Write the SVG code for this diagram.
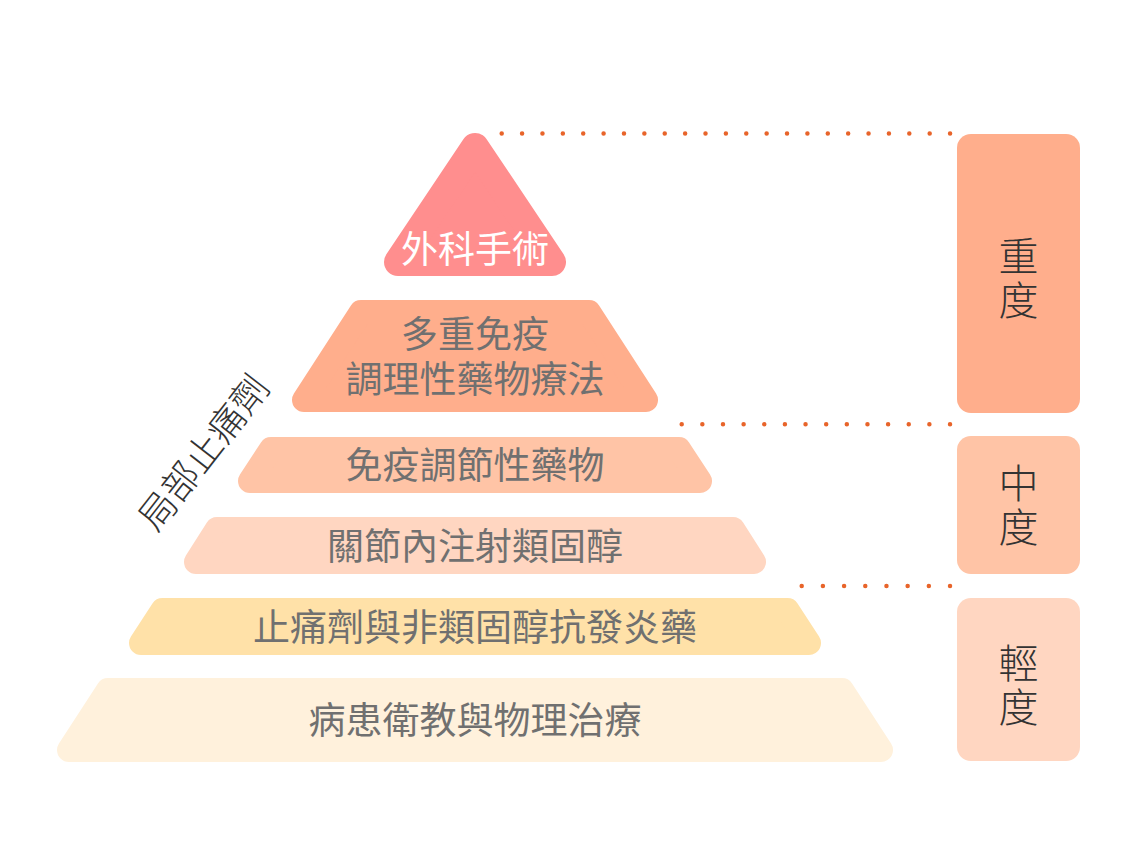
<svg xmlns="http://www.w3.org/2000/svg" width="1139" height="855" viewBox="0 0 1139 855">
<style>
.layer{stroke-linejoin:round}
.lt{font-family:"Noto Sans CJK TC","Noto Sans CJK SC",sans-serif;font-size:37px;fill:#707070;text-anchor:middle}
.bt{font-family:"Noto Sans CJK TC","Noto Sans CJK SC",sans-serif;font-size:40px;font-weight:300;fill:#333333;text-anchor:middle;writing-mode:vertical-rl;letter-spacing:4px}
.dots{fill:none;stroke:#E8642A;stroke-width:4.5;stroke-linecap:round}
</style>
<rect width="1139" height="855" fill="#ffffff"/>
<g id="connectors">
<line class="dots" x1="501.7" y1="133.5" x2="951" y2="133.5" stroke-dasharray="0 20.38"/>
<line class="dots" x1="681.7" y1="424.3" x2="951" y2="424.3" stroke-dasharray="0 20.64"/>
<line class="dots" x1="801.7" y1="586" x2="951" y2="586" stroke-dasharray="0 21.19"/>
</g>
<g id="layer-surgery">
<polygon class="layer" points="475,147 552,262 398,262" fill="#FF8E8E" stroke="#FF8E8E" stroke-width="28"/>
<text class="lt" x="475" y="263" style="fill:#ffffff">外科手術</text>
</g>
<g id="layer-multi">
<polygon class="layer" points="361,312 589,312 646,400 304,400" fill="#FFAE8C" stroke="#FFAE8C" stroke-width="24"/>
<text class="lt"><tspan x="475" y="348">多重免疫</tspan><tspan x="475" y="393">調理性藥物療法</tspan></text>
</g>
<g id="layer-immuno">
<polygon class="layer" points="271,449 679,449 700,481 250,481" fill="#FFC4A6" stroke="#FFC4A6" stroke-width="24"/>
<text class="lt" x="475" y="479">免疫調節性藥物</text>
</g>
<g id="layer-steroid">
<polygon class="layer" points="217,529 733,529 754,562 196,562" fill="#FFD6C1" stroke="#FFD6C1" stroke-width="24"/>
<text class="lt" x="475" y="560">關節內注射類固醇</text>
</g>
<g id="layer-nsaid">
<polygon class="layer" points="162.5,610 787.5,610 809,643 141,643" fill="#FFE1A8" stroke="#FFE1A8" stroke-width="24"/>
<text class="lt" x="475" y="641">止痛劑與非類固醇抗發炎藥</text>
</g>
<g id="layer-education">
<polygon class="layer" points="108,690 842,690 881,750 69,750" fill="#FFF1DC" stroke="#FFF1DC" stroke-width="24"/>
<text class="lt" x="475" y="734">病患衛教與物理治療</text>
</g>
<g id="label-topical">
<text x="203" y="452" transform="rotate(-52 203 452)" dy="14" style="font-family:'Noto Sans CJK TC','Noto Sans CJK SC',sans-serif;font-size:37px;font-weight:300;fill:#333333;text-anchor:middle">局部止痛劑</text>
</g>
<g id="level-severe">
<rect x="957" y="134" width="123" height="279" rx="14" fill="#FFAE8C"/>
<text class="bt" x="1018.5" y="279.5">重度</text>
</g>
<g id="level-moderate">
<rect x="957" y="436" width="123" height="138" rx="14" fill="#FFC4A6"/>
<text class="bt" x="1018.5" y="507">中度</text>
</g>
<g id="level-mild">
<rect x="957" y="598" width="123" height="163" rx="14" fill="#FFD6C1"/>
<text class="bt" x="1018.5" y="686.5">輕度</text>
</g>
</svg>
